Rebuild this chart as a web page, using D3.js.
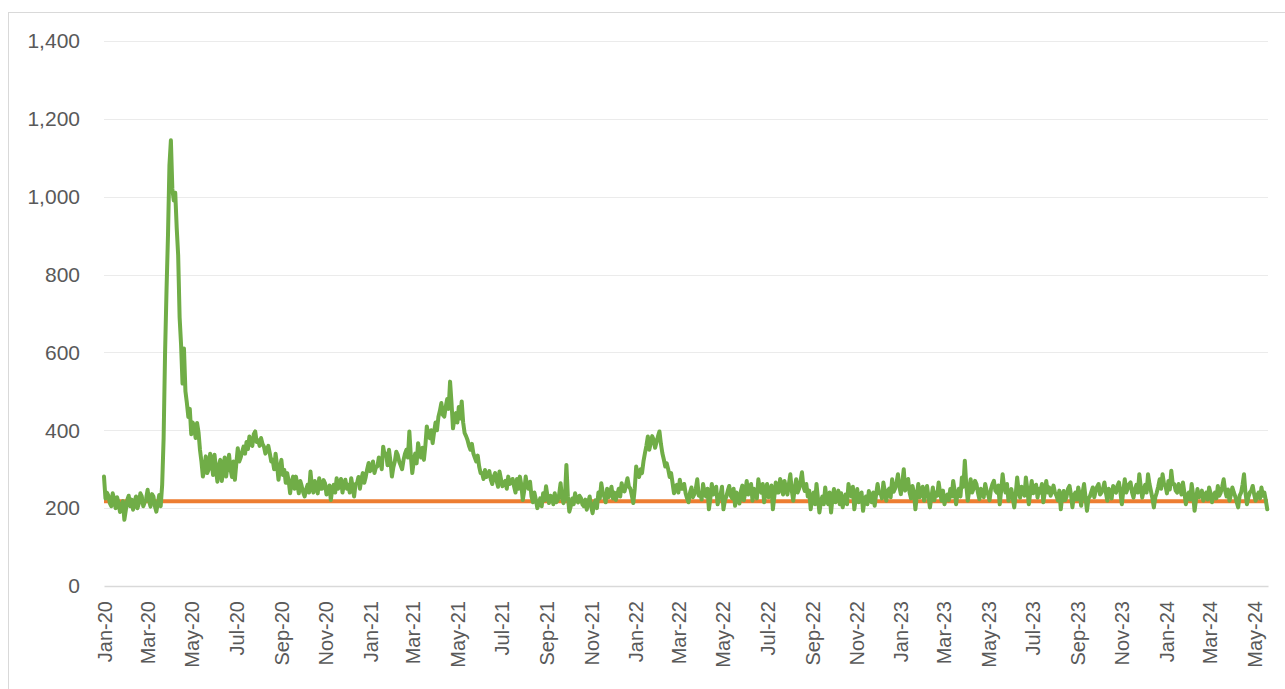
<!DOCTYPE html>
<html>
<head>
<meta charset="utf-8">
<script src="https://cdn.jsdelivr.net/npm/d3@7"></script>
<style>
  body { margin: 0; background: #fff; }
  text { font-family: "Liberation Sans", Arial, sans-serif; }
</style>
</head>
<body>
<script>

// values: one every 4 days from 1 Jan 2020 ...

var startDate = new Date(2020, 0, 1)
var stepDays = 4
var lastDay = 1601

var values2020 = [281,240,213,238,200,213,204,170,221,205,196,230,212,230,215,247,204,230,191,234,
  260,600,900,1145,990,920,690,520,500,434,390,410,419,350,281,333,300,320,337,268,
  324,300,281,337,280,273,354,330,358,370,384,360,397,375,380,358,350,341,324,340,
  273,324,298,290,238,281,281,238,256,230,260,294,240,256,277,250,264,240,221,260,
  277,264,240,273,260,277,230,264,250,290,280,316]

var values2021 = [300,290,307,320,358,340,350,281,320,337,310,324,350,397,290,340,367,330,324,410,
  380,367,420,435,470,435,480,525,405,444,460,474,393,375,350,341,320,307,290,298,
  285,273,281,270,294,256,270,281,265,256,275,281,221,281,250,230,240,200,225,238,
  256,213,230,238,220,264,213,311,191,225,238,215,226,205,196,230,187,220,240,264,
  230,250,238,225,221,250,264,243,277,250,213]

var values2022 = [307,280,290,341,384,367,375,370,397,341,307,300,290,238,260,273,250,238,215,253,
  236,274,240,262,230,197,262,240,210,235,197,230,257,225,206,230,244,220,270,245,
  219,240,274,240,215,262,235,197,266,240,262,270,235,287,219,274,250,292,244,230,
  197,240,262,189,230,253,210,189,249,225,210,202,235,262,230,197,249,220,193,230,
  244,215,206,262,240,266,219,250,274,250,287]

var values2023 = [236,300,260,240,257,197,262,240,219,257,202,253,240,266,219,210,235,249,270,210,
  250,279,322,219,274,250,262,223,240,262,235,249,270,240,210,287,240,219,249,202,
  279,227,250,279,210,270,245,227,240,215,270,253,245,240,220,197,244,230,257,202,
  240,253,206,262,193,230,253,244,262,240,266,219,240,257,240,266,210,274,250,266,
  227,260,287,227,260,287,244,202,240,274,287]

var values2024 = [257,270,296,262,240,250,266,210,240,262,193,249,230,219,240,253,215,240,257,240,
  274,230,219,253,230,202,240,287,210,240,257,219,240,253,240,197]

// ... and the days in between (2 days after each of the values above)

var mid2020 = [225,232,205,222,228,190,218,195,232,222,215,200,238,205,225,218,236,205,212,205,
  380,760,1080,1020,1010,850,620,610,470,455,420,380,395,320,300,290,340,285,300,310,
  270,330,310,300,320,315,320,345,340,352,365,390,370,360,365,340,360,320,300,310,
  305,285,265,270,265,250,260,270,240,248,240,255,270,238,250,272,235,258,250,240,
  250,275,262,250,240,255,262,280,275,265,300,295]

var mid2021 = [320,305,330,300,335,310,320,305,345,320,300,340,330,335,320,315,345,355,360,390,
  400,395,400,450,440,460,455,470,430,420,430,420,385,360,365,330,335,290,275,280,
  295,262,290,255,275,265,250,262,275,240,250,260,245,255,268,215,222,212,205,220,
  230,232,210,215,235,225,228,230,205,210,220,232,210,222,215,205,210,200,225,240,
  215,228,255,240,235,230,245,260,255,232,250]

var mid2022 = [285,300,320,360,350,385,355,385,365,325,315,280,265,255,240,250,262,225,240,228,
  250,232,222,240,250,225,235,255,228,255,220,245,232,250,240,212,258,240,235,262,
  250,225,248,262,245,228,258,230,240,275,235,250,262,245,250,240,270,255,262,245,
  225,210,225,215,210,222,240,225,215,245,238,222,210,240,255,225,215,240,220,210,
  225,240,235,238,225,242,245,228,242,265,255]

var mid2023 = [265,245,275,225,240,232,228,255,240,230,228,220,232,240,245,228,220,230,245,238,
  230,255,260,245,240,270,240,250,228,245,220,262,245,258,245,255,262,238,225,235,
  245,255,232,248,240,238,260,250,262,240,240,232,258,232,245,232,220,250,235,232,
  222,235,240,228,225,242,228,255,235,250,240,250,225,245,258,240,245,240,262,240,
  248,240,255,245,240,262,225,228,255,250,262]

var mid2024 = [238,248,262,245,262,235,240,232,222,235,222,228,245,232,222,238,232,225,232,255,
  245,248,235,240,215,232,260,240,228,245,235,232,225,232,220]

// the orange reference level, flat over the whole period

var baselineValue = 218

// labels on the x axis: every second month

var tickMonths = d3.timeMonth.every(2).range(new Date(2020, 0, 1), new Date(2024, 5, 1))

var values = values2020.concat(values2021, values2022, values2023, values2024)
var mids = mid2020.concat(mid2021, mid2022, mid2023, mid2024)

var data = []
values.forEach(function(v, i) {
  data.push({ date: d3.timeDay.offset(startDate, i * stepDays), value: v })
  if (i < mids.length) {
    data.push({ date: d3.timeDay.offset(startDate, i * stepDays + stepDays / 2), value: mids[i] })
  }
})

var baseline = [
  { date: startDate, value: baselineValue },
  { date: d3.timeDay.offset(startDate, lastDay), value: baselineValue }
]

var margin = { top: 41, right: 17, bottom: 103, left: 104 },
  width = 1285 - margin.left - margin.right,
  height = 689 - margin.top - margin.bottom

var root = d3.select("body").append("svg")
  .attr("width", 1285)
  .attr("height", 689)

// light frame round the chart, like the spreadsheet chart area

root.append("rect")
  .attr("x", 8.5)
  .attr("y", 12.5)
  .attr("width", 1300)
  .attr("height", 700)
  .attr("fill", "none")
  .attr("stroke", "#d9d9d9")

var svg = root.append("g")
  .attr("transform", "translate(" + margin.left + "," + margin.top + ")")

var x = d3.scaleTime()
  .domain([startDate, d3.timeDay.offset(startDate, lastDay)])
  .range([0, width])

var y = d3.scaleLinear()
  .domain([0, 1400])
  .range([height, 0])

var yTicks = d3.range(0, 1401, 200)

// gridlines first so the lines sit on top

svg.append("g")
  .attr("class", "grid")
  .selectAll("line")
  .data(yTicks.filter(function(d) { return d > 0 }))
  .enter().append("line")
  .attr("x1", 0)
  .attr("x2", width)
  .attr("y1", function(d) { return Math.round(y(d)) + 0.5 })
  .attr("y2", function(d) { return Math.round(y(d)) + 0.5 })
  .attr("stroke", "#ebebeb")
  .attr("stroke-width", 1)

var yAxis = d3.axisLeft(y)
  .tickValues(yTicks)
  .tickFormat(d3.format(","))
  .tickSize(0)
  .tickPadding(24)

svg.append("g")
  .attr("class", "y axis")
  .call(yAxis)
  .call(function(g) { g.select(".domain").remove() })
  .selectAll("text")
  .attr("fill", "#595959")
  .style("font-size", "21px")

var xAxis = d3.axisBottom(x)
  .tickValues(tickMonths)
  .tickFormat(d3.timeFormat("%b-%y"))
  .tickSize(0)

svg.append("g")
  .attr("class", "x axis")
  .attr("transform", "translate(0," + height + ")")
  .call(xAxis)
  .call(function(g) {
    g.select(".domain").attr("stroke", "#d9d9d9").attr("stroke-width", 1.5)
  })
  .selectAll("text")
  .attr("fill", "#595959")
  .style("font-size", "20px")
  .attr("text-anchor", "end")
  .attr("transform", "rotate(-90)")
  .attr("x", -15)
  .attr("y", 0)
  .attr("dy", "0.35em")

var line = d3.line()
  .x(function(d) { return x(d.date) })
  .y(function(d) { return y(d.value) })

svg.append("path")
  .datum(baseline)
  .attr("d", line)
  .attr("fill", "none")
  .attr("stroke", "#ed7d31")
  .attr("stroke-width", 4)

svg.append("path")
  .datum(data)
  .attr("d", line)
  .attr("fill", "none")
  .attr("stroke", "#70ad47")
  .attr("stroke-width", 4)
  .attr("stroke-linejoin", "round")
  .attr("stroke-linecap", "round")

</script>
</body>
</html>
